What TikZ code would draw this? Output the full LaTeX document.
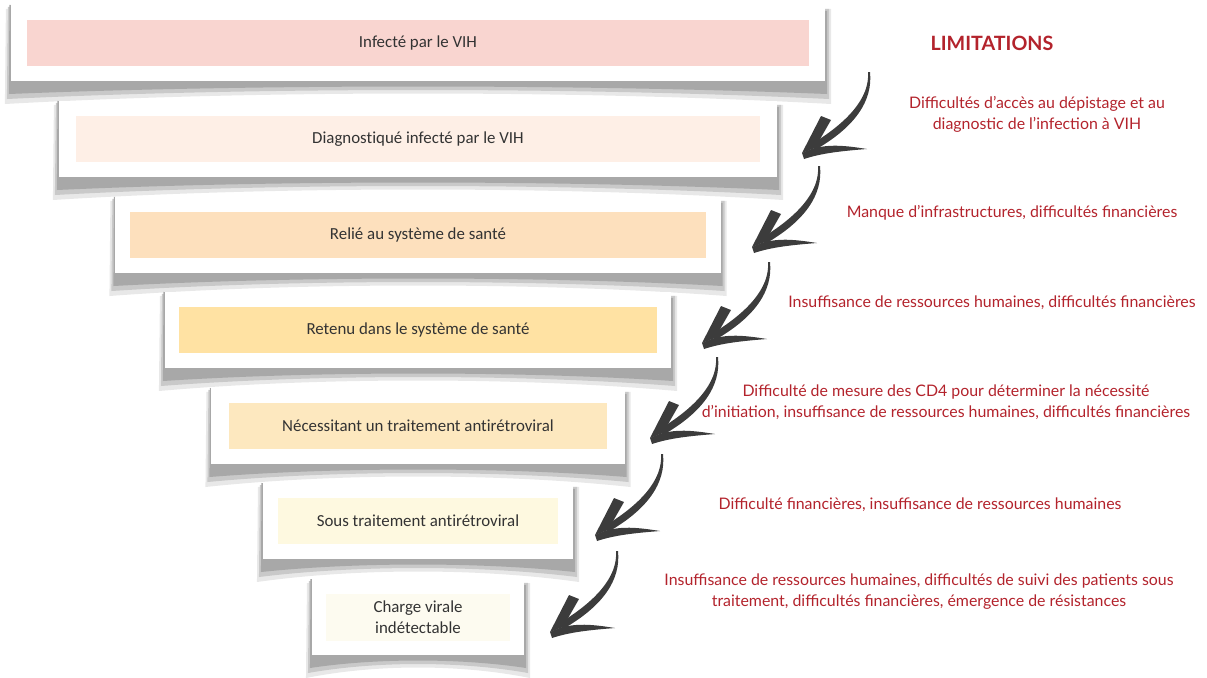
\documentclass[tikz,border=0pt]{standalone}
\usepackage{fontspec}
\setmainfont{Carlito}[Ligatures=NoCommon]
\newfontfamily\gillfont{Lato}
\usetikzlibrary{calc,backgrounds}
\definecolor{limitred}{HTML}{B3232C}
\definecolor{arrowgray}{HTML}{3C3C3C}
\definecolor{barA}{HTML}{F9D5D0}
\definecolor{barB}{HTML}{FEEFE6}
\definecolor{barC}{HTML}{FDE0BD}
\definecolor{barD}{HTML}{FFE2A3}
\definecolor{barE}{HTML}{FDE8BF}
\definecolor{barF}{HTML}{FEF9E0}
\definecolor{barG}{HTML}{FDFBF0}
\tikzset{
  card/.style={rectangle, fill=white, inner sep=0pt, outer sep=0pt, minimum height=1.9cm},
  bar/.style={rectangle, inner sep=0pt, outer sep=0pt, minimum height=1.15cm, align=center,
    text=black!80, font=\fontsize{12}{14.5}\selectfont},
  limit/.style={text=limitred, align=center, font=\gillfont\fontsize{11.3}{15}\selectfont},
  brusharrow/.pic={
    \fill[arrowgray] (66,-81) .. controls (68,-55) and (45,-30) .. (8,-8) -- (13,-3)
      .. controls (53,-26) and (71,-52) .. (68,-81) -- cycle;
    \fill[arrowgray] (0,0) -- (19,-37) -- (29,-33) -- (13,-5) -- cycle;
    \fill[arrowgray] (0,0) .. controls (20,-10) and (40,-8) .. (65,-4)
      .. controls (40,-2) and (20,0) .. (2,6) -- cycle;
  }
}

\begin{document}
\begin{tikzpicture}[x=0.025cm,y=-0.025cm]
  \useasboundingbox (0,0) rectangle (1207,677);

  % cascade of cards
  \node[card, minimum width=20.35cm] (c1) at (418,43) {};
  \node[bar, fill=barA, minimum width=19.525cm] (b1) at (c1) {Infecté par le VIH};

  \node[card, minimum width=17.95cm] (c2) at (418,139) {};
  \node[bar, fill=barB, minimum width=17.1cm] (b2) at (c2) {Diagnostiqué infecté par le VIH};

  \node[card, minimum width=15.125cm] (c3) at (418,235) {};
  \node[bar, fill=barC, minimum width=14.375cm] (b3) at (c3) {Relié au système de santé};

  \node[card, minimum width=12.65cm] (c4) at (418,330) {};
  \node[bar, fill=barD, minimum width=11.925cm] (b4) at (c4) {Retenu dans le système de santé};

  \node[card, minimum width=10.325cm] (c5) at (418,426) {};
  \node[bar, fill=barE, minimum width=9.45cm] (b5) at (c5) {Nécessitant un traitement antirétroviral};

  \node[card, minimum width=7.75cm] (c6) at (418,521) {};
  \node[bar, fill=barF, minimum width=7cm] (b6) at (c6) {Sous traitement antirétroviral};

  \node[card, minimum width=5.3cm] (c7) at (418,617) {};
  \node[bar, fill=barG, minimum width=4.575cm, minimum height=1.175cm] (b7) at (c7) {Charge virale\\indétectable};

  % curled shadows behind the cards
  \begin{scope}[on background layer]
    \foreach \c in {c1,c2,c3,c4,c5,c6,c7} {
      \fill[gray!18] ($(\c.north west)+(-5,4)$) -- ($(\c.south west)+(-6,23)$)
        .. controls ($(\c.south west)!0.3!(\c.south east)+(0,9)$) and ($(\c.south west)!0.7!(\c.south east)+(0,9)$)
        .. ($(\c.south east)+(6,23)$) -- ($(\c.north east)+(6,4)$) -- cycle;
      \fill[gray!42] ($(\c.north west)+(-3,2)$) -- ($(\c.south west)+(-4,18)$)
        .. controls ($(\c.south west)!0.3!(\c.south east)+(0,6)$) and ($(\c.south west)!0.7!(\c.south east)+(0,6)$)
        .. ($(\c.south east)+(4,18)$) -- ($(\c.north east)+(4,4)$) -- cycle;
      \fill[gray!68] ($(\c.north west)+(-1.5,0)$) -- ($(\c.south west)+(-2,13)$)
        .. controls ($(\c.south west)!0.3!(\c.south east)+(0,3)$) and ($(\c.south west)!0.7!(\c.south east)+(0,3)$)
        .. ($(\c.south east)+(2,13)$) -- ($(\c.north east)+(2,6)$) -- cycle;
    }
  \end{scope}

  % brush arrows
  \pic at (802,153) {brusharrow};
  \pic at (752,247) {brusharrow};
  \pic at (702,343) {brusharrow};
  \pic at (650,438) {brusharrow};
  \pic at (595,535) {brusharrow};
  \pic at (550,632) {brusharrow};

  % limitations
  \node[limit, font=\gillfont\bfseries\fontsize{14}{16}\selectfont] (limits) at (992,43) {LIMITATIONS};
  \node[limit] (lim1) at (1037,114) {Difficultés d’accès au dépistage et au\\diagnostic de l’infection à VIH};
  \node[limit] (lim2) at (1012,213) {Manque d’infrastructures, difficultés financières};
  \node[limit] (lim3) at (992,303) {Insuffisance de ressources humaines, difficultés financières};
  \node[limit] (lim4) at (946,402) {Difficulté de mesure des CD4 pour déterminer la nécessité\\d’initiation, insuffisance de ressources humaines, difficultés financières};
  \node[limit] (lim5) at (920,505) {Difficulté financières, insuffisance de ressources humaines};
  \node[limit] (lim6) at (919,592) {Insuffisance de ressources humaines, difficultés de suivi des patients sous\\traitement, difficultés financières, émergence de résistances};
\end{tikzpicture}
\end{document}
